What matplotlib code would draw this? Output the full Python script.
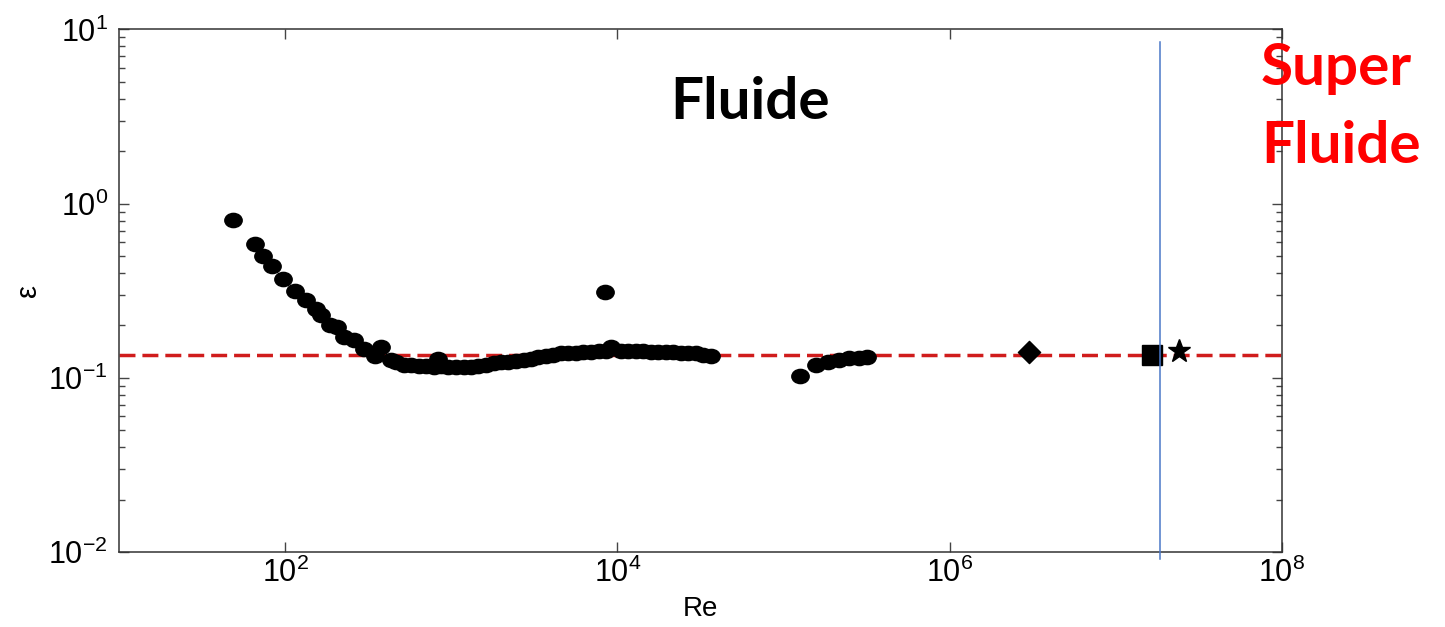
import matplotlib
matplotlib.use("Agg")
import matplotlib.pyplot as plt
import numpy as np
from matplotlib.path import Path
from matplotlib.transforms import Affine2D
from matplotlib.ticker import LogLocator, NullLocator, FuncFormatter

plt.rcParams['font.family'] = ['Liberation Sans', 'DejaVu Sans']

# Classical fluid measurements (Re, epsilon)
re_fluid = [48.5, 65.5, 73.4, 83.4, 97, 114, 134, 154, 165, 185, 206, 227, 261,
            300, 345, 378, 435, 466, 520, 573, 640, 705, 790, 836, 868, 960,
            1068, 1190, 1315, 1450, 1618, 1800, 1991, 2200, 2452, 2720, 3018,
            3340, 3715, 4120, 4573, 5070, 5629, 6240, 6929, 7690, 8529, 9140,
            10497, 11650, 12920, 14330, 15900, 17640, 19570, 21710, 24090,
            26730, 29650, 32900, 36490]
eps_fluid = [0.806, 0.587, 0.503, 0.441, 0.370, 0.314, 0.278, 0.249, 0.228,
             0.200, 0.195, 0.171, 0.164, 0.147, 0.134, 0.150, 0.126, 0.1225,
             0.118, 0.119, 0.117, 0.1177, 0.116, 0.129, 0.1177, 0.116, 0.116,
             0.116, 0.116, 0.117, 0.119, 0.121, 0.1225, 0.124, 0.1257, 0.127,
             0.129, 0.131, 0.134, 0.136, 0.138, 0.139, 0.1397, 0.141, 0.1416,
             0.143, 0.1435, 0.151, 0.1435, 0.1435, 0.1435, 0.142, 0.1416,
             0.1416, 0.1416, 0.140, 0.1397, 0.138, 0.138, 0.136, 0.134]

re_outlier = [8400]
eps_outlier = [0.313]

re_high = [1.256e5, 1.56e5, 1.84e5, 2.16e5, 2.48e5, 2.84e5, 3.16e5]
eps_high = [0.103, 0.118, 0.123, 0.127, 0.130, 0.130, 0.131]

re_diamond = [2.99e6]
eps_diamond = [0.140]
re_square = [1.65e7]
eps_square = [0.136]
re_star = [2.41e7]
eps_star = [0.1435]

eps_reference = 0.136
re_transition = 1.85e7

x_ticks = [1e2, 1e4, 1e6, 1e8]
y_ticks = [1e-2, 1e-1, 1e0, 1e1]

fig = plt.figure(figsize=(14.45, 6.27), dpi=100)
ax = fig.add_axes([0.0824, 0.1196, 0.8048, 0.8334])

# slightly flattened disc marker
ellipse = Path.unit_circle().transformed(Affine2D().scale(1.0, 0.82))
diamond = Path([(0, 1), (1, 0), (0, -1), (-1, 0), (0, 1)],
               [Path.MOVETO, Path.LINETO, Path.LINETO, Path.LINETO, Path.CLOSEPOLY])

ax.axhline(eps_reference, color='#d01c1c', lw=2.5, dashes=(4.6, 2.0), zorder=1)

mk = dict(color='black', linestyle='none', zorder=3)
ax.plot(re_fluid, eps_fluid, marker=ellipse, markersize=12.5, **mk)
ax.plot(re_outlier, eps_outlier, marker=ellipse, markersize=12.5, **mk)
ax.plot(re_high, eps_high, marker=ellipse, markersize=12.5, **mk)
ax.plot(re_diamond, eps_diamond, marker=diamond, markersize=16, **mk)
ax.plot(re_square, eps_square, marker='s', markersize=14, **mk)
ax.plot(re_star, eps_star, marker='*', markersize=17, **mk)

ax.axvline(re_transition, ymin=-0.0134, ymax=0.976, color='#4a78c8', lw=1.1,
           clip_on=False, zorder=4)

ax.set_xscale('log')
ax.set_yscale('log')
ax.set_xlim(1e1, 1e8)
ax.set_ylim(1e-2, 1e1)

ax.set_xticks(x_ticks)
ax.set_yticks(y_ticks)
ax.xaxis.set_minor_locator(NullLocator())
ax.yaxis.set_minor_locator(LogLocator(base=10, subs=np.arange(2, 10)))
fmt = FuncFormatter(lambda v, p: r'$\mathregular{10^{%d}}$' % int(round(np.log10(v))))
ax.xaxis.set_major_formatter(fmt)
ax.yaxis.set_major_formatter(fmt)

ax.tick_params(which='both', direction='in', top=True, right=True,
               color='#444444', labelsize=22, labelcolor='black')
ax.tick_params(which='major', length=7.2, width=1.0)
ax.tick_params(which='minor', length=4.3, width=1.0)
ax.tick_params(axis='x', pad=4)
ax.tick_params(axis='y', pad=8)
for s in ax.spines.values():
    s.set_color('#333333')
    s.set_linewidth(1.1)

ax.set_xlabel('Re', fontsize=20, va='center')
ax.xaxis.set_label_coords(0.5, -0.109)
ax.set_ylabel('ε', fontsize=21)
ax.yaxis.set_label_coords(-0.066, 0.5)

W, H = 1445, 627
fig.text(750 / W, 1 - 119 / H, 'Fluide', fontsize=42, fontweight='bold',
         family='Lato', color='black', ha='center', va='baseline')
fig.text(1261 / W, 1 - 85 / H, 'Super', fontsize=42, fontweight='bold',
         family='Lato', color='#ff0000', ha='left', va='baseline')
fig.text(1261 / W, 1 - 163 / H, 'Fluide', fontsize=42, fontweight='bold',
         family='Lato', color='#ff0000', ha='left', va='baseline')

fig.savefig('out.png', dpi=100)
